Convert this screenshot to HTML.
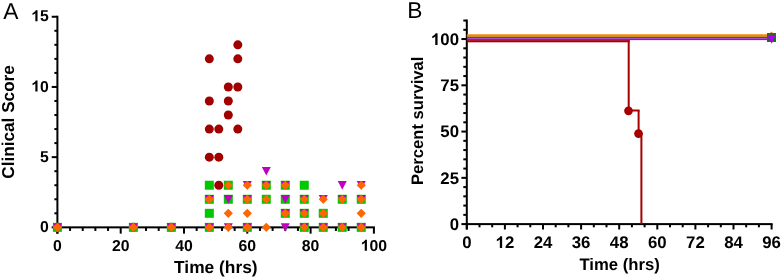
<!DOCTYPE html>
<html><head><meta charset="utf-8"><style>
html,body{margin:0;padding:0;background:#fff;}
body{width:782px;height:279px;overflow:hidden;}
svg{display:block;font-family:"Liberation Sans", sans-serif;will-change:transform;text-rendering:geometricPrecision;}
</style></head><body>
<svg width="782" height="279" viewBox="0 0 782 279" fill="#000">
<rect x="56.40" y="15.75" width="2.00" height="217.90" fill="#000"/>
<rect x="56.40" y="226.35" width="318.50" height="2.00" fill="#000"/>
<rect x="51.70" y="226.35" width="5.70" height="2.00" fill="#000"/>
<rect x="54.40" y="212.31" width="3.00" height="2.00" fill="#000"/>
<rect x="54.40" y="198.27" width="3.00" height="2.00" fill="#000"/>
<rect x="54.40" y="184.23" width="3.00" height="2.00" fill="#000"/>
<rect x="54.40" y="170.19" width="3.00" height="2.00" fill="#000"/>
<rect x="51.70" y="156.15" width="5.70" height="2.00" fill="#000"/>
<rect x="54.40" y="142.11" width="3.00" height="2.00" fill="#000"/>
<rect x="54.40" y="128.07" width="3.00" height="2.00" fill="#000"/>
<rect x="54.40" y="114.03" width="3.00" height="2.00" fill="#000"/>
<rect x="54.40" y="99.99" width="3.00" height="2.00" fill="#000"/>
<rect x="51.70" y="85.95" width="5.70" height="2.00" fill="#000"/>
<rect x="54.40" y="71.91" width="3.00" height="2.00" fill="#000"/>
<rect x="54.40" y="57.87" width="3.00" height="2.00" fill="#000"/>
<rect x="54.40" y="43.83" width="3.00" height="2.00" fill="#000"/>
<rect x="54.40" y="29.79" width="3.00" height="2.00" fill="#000"/>
<rect x="51.70" y="15.75" width="5.70" height="2.00" fill="#000"/>
<rect x="56.40" y="227.35" width="2.00" height="6.30" fill="#000"/>
<rect x="69.06" y="227.35" width="2.00" height="3.60" fill="#000"/>
<rect x="81.72" y="227.35" width="2.00" height="3.60" fill="#000"/>
<rect x="94.38" y="227.35" width="2.00" height="3.60" fill="#000"/>
<rect x="107.04" y="227.35" width="2.00" height="3.60" fill="#000"/>
<rect x="119.70" y="227.35" width="2.00" height="6.30" fill="#000"/>
<rect x="132.36" y="227.35" width="2.00" height="3.60" fill="#000"/>
<rect x="145.02" y="227.35" width="2.00" height="3.60" fill="#000"/>
<rect x="157.68" y="227.35" width="2.00" height="3.60" fill="#000"/>
<rect x="170.34" y="227.35" width="2.00" height="3.60" fill="#000"/>
<rect x="183.00" y="227.35" width="2.00" height="6.30" fill="#000"/>
<rect x="195.66" y="227.35" width="2.00" height="3.60" fill="#000"/>
<rect x="208.32" y="227.35" width="2.00" height="3.60" fill="#000"/>
<rect x="220.98" y="227.35" width="2.00" height="3.60" fill="#000"/>
<rect x="233.64" y="227.35" width="2.00" height="3.60" fill="#000"/>
<rect x="246.30" y="227.35" width="2.00" height="6.30" fill="#000"/>
<rect x="258.96" y="227.35" width="2.00" height="3.60" fill="#000"/>
<rect x="271.62" y="227.35" width="2.00" height="3.60" fill="#000"/>
<rect x="284.28" y="227.35" width="2.00" height="3.60" fill="#000"/>
<rect x="296.94" y="227.35" width="2.00" height="3.60" fill="#000"/>
<rect x="309.60" y="227.35" width="2.00" height="6.30" fill="#000"/>
<rect x="322.26" y="227.35" width="2.00" height="3.60" fill="#000"/>
<rect x="334.92" y="227.35" width="2.00" height="3.60" fill="#000"/>
<rect x="347.58" y="227.35" width="2.00" height="3.60" fill="#000"/>
<rect x="360.24" y="227.35" width="2.00" height="3.60" fill="#000"/>
<rect x="372.90" y="227.35" width="2.00" height="6.30" fill="#000"/>
<text x="48.90" y="231.90" font-size="15.8" font-weight="bold" text-anchor="end" >0</text>
<text x="48.90" y="161.70" font-size="15.8" font-weight="bold" text-anchor="end" >5</text>
<text x="48.90" y="91.50" font-size="15.8" font-weight="bold" text-anchor="end" > 0</text><path transform="matrix(0.00771 0 0 -0.00771 31.33 91.50)" d="M803 0H522V1033Q368 893 159 825V1074Q269 1109 398 1208Q527 1305 575 1430H803Z"/>
<text x="48.90" y="21.30" font-size="15.8" font-weight="bold" text-anchor="end" > 5</text><path transform="matrix(0.00771 0 0 -0.00771 31.33 21.30)" d="M803 0H522V1033Q368 893 159 825V1074Q269 1109 398 1208Q527 1305 575 1430H803Z"/>
<text x="57.40" y="250.80" font-size="15.8" font-weight="bold" text-anchor="middle" >0</text>
<text x="120.70" y="250.80" font-size="15.8" font-weight="bold" text-anchor="middle" >20</text>
<text x="184.00" y="250.80" font-size="15.8" font-weight="bold" text-anchor="middle" >40</text>
<text x="247.30" y="250.80" font-size="15.8" font-weight="bold" text-anchor="middle" >60</text>
<text x="310.60" y="250.80" font-size="15.8" font-weight="bold" text-anchor="middle" >80</text>
<text x="373.90" y="250.80" font-size="15.8" font-weight="bold" text-anchor="middle" > 00</text><path transform="matrix(0.00771 0 0 -0.00771 360.72 250.80)" d="M803 0H522V1033Q368 893 159 825V1074Q269 1109 398 1208Q527 1305 575 1430H803Z"/>
<text x="215.83" y="273.20" font-size="17.35" font-weight="bold" text-anchor="middle" >Time (hrs)</text>
<text x="0.00" y="0.00" font-size="17.16" font-weight="bold" text-anchor="middle" transform="translate(14.4 121.9) rotate(-90)">Clinical Score</text>
<text x="3.25" y="18.90" font-size="22.8" font-weight="normal" text-anchor="start" >A</text>
<circle cx="209.32" cy="58.87" r="4.50" fill="#A00000"/>
<circle cx="209.32" cy="100.99" r="4.50" fill="#A00000"/>
<circle cx="209.32" cy="129.07" r="4.50" fill="#A00000"/>
<circle cx="209.32" cy="157.15" r="4.50" fill="#A00000"/>
<circle cx="218.81" cy="129.07" r="4.50" fill="#A00000"/>
<circle cx="218.81" cy="157.15" r="4.50" fill="#A00000"/>
<circle cx="218.81" cy="185.23" r="4.50" fill="#A00000"/>
<circle cx="228.31" cy="86.95" r="4.50" fill="#A00000"/>
<circle cx="228.31" cy="100.99" r="4.50" fill="#A00000"/>
<circle cx="228.31" cy="115.03" r="4.50" fill="#A00000"/>
<circle cx="237.81" cy="44.83" r="4.50" fill="#A00000"/>
<circle cx="237.81" cy="58.87" r="4.50" fill="#A00000"/>
<circle cx="237.81" cy="86.95" r="4.50" fill="#A00000"/>
<circle cx="237.81" cy="129.07" r="4.50" fill="#A00000"/>
<circle cx="57.40" cy="227.35" r="4.50" fill="#A00000"/>
<circle cx="133.36" cy="227.35" r="4.50" fill="#A00000"/>
<circle cx="171.34" cy="227.35" r="4.50" fill="#A00000"/>
<rect x="52.90" y="222.85" width="9.00" height="9.00" fill="#00C800"/>
<rect x="128.86" y="222.85" width="9.00" height="9.00" fill="#00C800"/>
<rect x="166.84" y="222.85" width="9.00" height="9.00" fill="#00C800"/>
<rect x="204.82" y="180.73" width="9.00" height="9.00" fill="#00C800"/>
<rect x="204.82" y="194.77" width="9.00" height="9.00" fill="#00C800"/>
<rect x="204.82" y="208.81" width="9.00" height="9.00" fill="#00C800"/>
<rect x="204.82" y="222.85" width="9.00" height="9.00" fill="#00C800"/>
<rect x="223.81" y="180.73" width="9.00" height="9.00" fill="#00C800"/>
<rect x="223.81" y="194.77" width="9.00" height="9.00" fill="#00C800"/>
<rect x="242.80" y="194.77" width="9.00" height="9.00" fill="#00C800"/>
<rect x="242.80" y="222.85" width="9.00" height="9.00" fill="#00C800"/>
<rect x="261.79" y="180.73" width="9.00" height="9.00" fill="#00C800"/>
<rect x="261.79" y="194.77" width="9.00" height="9.00" fill="#00C800"/>
<rect x="280.78" y="180.73" width="9.00" height="9.00" fill="#00C800"/>
<rect x="280.78" y="194.77" width="9.00" height="9.00" fill="#00C800"/>
<rect x="280.78" y="208.81" width="9.00" height="9.00" fill="#00C800"/>
<rect x="299.77" y="180.73" width="9.00" height="9.00" fill="#00C800"/>
<rect x="299.77" y="194.77" width="9.00" height="9.00" fill="#00C800"/>
<rect x="299.77" y="208.81" width="9.00" height="9.00" fill="#00C800"/>
<rect x="299.77" y="222.85" width="9.00" height="9.00" fill="#00C800"/>
<rect x="318.76" y="208.81" width="9.00" height="9.00" fill="#00C800"/>
<rect x="318.76" y="222.85" width="9.00" height="9.00" fill="#00C800"/>
<rect x="337.75" y="194.77" width="9.00" height="9.00" fill="#00C800"/>
<rect x="337.75" y="222.85" width="9.00" height="9.00" fill="#00C800"/>
<rect x="356.74" y="194.77" width="9.00" height="9.00" fill="#00C800"/>
<rect x="356.74" y="222.85" width="9.00" height="9.00" fill="#00C800"/>
<path d="M52.90 223.15H61.90L57.40 231.75Z" fill="#C000C0"/>
<path d="M128.86 223.15H137.86L133.36 231.75Z" fill="#C000C0"/>
<path d="M166.84 223.15H175.84L171.34 231.75Z" fill="#C000C0"/>
<path d="M204.82 195.07H213.82L209.32 203.67Z" fill="#C000C0"/>
<path d="M204.82 223.15H213.82L209.32 231.75Z" fill="#C000C0"/>
<path d="M223.81 195.07H232.81L228.31 203.67Z" fill="#C000C0"/>
<path d="M223.81 223.15H232.81L228.31 231.75Z" fill="#C000C0"/>
<path d="M242.80 181.03H251.80L247.30 189.63Z" fill="#C000C0"/>
<path d="M242.80 195.07H251.80L247.30 203.67Z" fill="#C000C0"/>
<path d="M242.80 223.15H251.80L247.30 231.75Z" fill="#C000C0"/>
<path d="M261.79 166.99H270.79L266.29 175.59Z" fill="#C000C0"/>
<path d="M261.79 181.03H270.79L266.29 189.63Z" fill="#C000C0"/>
<path d="M280.78 181.03H289.78L285.28 189.63Z" fill="#C000C0"/>
<path d="M280.78 195.07H289.78L285.28 203.67Z" fill="#C000C0"/>
<path d="M280.78 209.11H289.78L285.28 217.71Z" fill="#C000C0"/>
<path d="M280.78 223.15H289.78L285.28 231.75Z" fill="#C000C0"/>
<path d="M299.77 195.07H308.77L304.27 203.67Z" fill="#C000C0"/>
<path d="M299.77 209.11H308.77L304.27 217.71Z" fill="#C000C0"/>
<path d="M299.77 223.15H308.77L304.27 231.75Z" fill="#C000C0"/>
<path d="M318.76 195.07H327.76L323.26 203.67Z" fill="#C000C0"/>
<path d="M318.76 223.15H327.76L323.26 231.75Z" fill="#C000C0"/>
<path d="M337.75 181.03H346.75L342.25 189.63Z" fill="#C000C0"/>
<path d="M337.75 195.07H346.75L342.25 203.67Z" fill="#C000C0"/>
<path d="M337.75 223.15H346.75L342.25 231.75Z" fill="#C000C0"/>
<path d="M356.74 181.03H365.74L361.24 189.63Z" fill="#C000C0"/>
<path d="M356.74 195.07H365.74L361.24 203.67Z" fill="#C000C0"/>
<path d="M356.74 223.15H365.74L361.24 231.75Z" fill="#C000C0"/>
<path d="M57.40 222.75L62.00 227.35L57.40 231.95L52.80 227.35Z" fill="#FF6600"/>
<path d="M133.36 222.75L137.96 227.35L133.36 231.95L128.76 227.35Z" fill="#FF6600"/>
<path d="M171.34 222.75L175.94 227.35L171.34 231.95L166.74 227.35Z" fill="#FF6600"/>
<path d="M209.32 194.67L213.92 199.27L209.32 203.87L204.72 199.27Z" fill="#FF6600"/>
<path d="M209.32 222.75L213.92 227.35L209.32 231.95L204.72 227.35Z" fill="#FF6600"/>
<path d="M228.31 180.63L232.91 185.23L228.31 189.83L223.71 185.23Z" fill="#FF6600"/>
<path d="M228.31 208.71L232.91 213.31L228.31 217.91L223.71 213.31Z" fill="#FF6600"/>
<path d="M228.31 222.75L232.91 227.35L228.31 231.95L223.71 227.35Z" fill="#FF6600"/>
<path d="M247.30 180.63L251.90 185.23L247.30 189.83L242.70 185.23Z" fill="#FF6600"/>
<path d="M247.30 194.67L251.90 199.27L247.30 203.87L242.70 199.27Z" fill="#FF6600"/>
<path d="M247.30 208.71L251.90 213.31L247.30 217.91L242.70 213.31Z" fill="#FF6600"/>
<path d="M247.30 222.75L251.90 227.35L247.30 231.95L242.70 227.35Z" fill="#FF6600"/>
<path d="M266.29 180.63L270.89 185.23L266.29 189.83L261.69 185.23Z" fill="#FF6600"/>
<path d="M266.29 194.67L270.89 199.27L266.29 203.87L261.69 199.27Z" fill="#FF6600"/>
<path d="M266.29 222.75L270.89 227.35L266.29 231.95L261.69 227.35Z" fill="#FF6600"/>
<path d="M285.28 180.63L289.88 185.23L285.28 189.83L280.68 185.23Z" fill="#FF6600"/>
<path d="M285.28 208.71L289.88 213.31L285.28 217.91L280.68 213.31Z" fill="#FF6600"/>
<path d="M304.27 194.67L308.87 199.27L304.27 203.87L299.67 199.27Z" fill="#FF6600"/>
<path d="M304.27 208.71L308.87 213.31L304.27 217.91L299.67 213.31Z" fill="#FF6600"/>
<path d="M304.27 222.75L308.87 227.35L304.27 231.95L299.67 227.35Z" fill="#FF6600"/>
<path d="M323.26 194.67L327.86 199.27L323.26 203.87L318.66 199.27Z" fill="#FF6600"/>
<path d="M323.26 208.71L327.86 213.31L323.26 217.91L318.66 213.31Z" fill="#FF6600"/>
<path d="M323.26 222.75L327.86 227.35L323.26 231.95L318.66 227.35Z" fill="#FF6600"/>
<path d="M342.25 194.67L346.85 199.27L342.25 203.87L337.65 199.27Z" fill="#FF6600"/>
<path d="M342.25 222.75L346.85 227.35L342.25 231.95L337.65 227.35Z" fill="#FF6600"/>
<path d="M361.24 180.63L365.84 185.23L361.24 189.83L356.64 185.23Z" fill="#FF6600"/>
<path d="M361.24 194.67L365.84 199.27L361.24 203.87L356.64 199.27Z" fill="#FF6600"/>
<path d="M361.24 208.71L365.84 213.31L361.24 217.91L356.64 213.31Z" fill="#FF6600"/>
<path d="M361.24 222.75L365.84 227.35L361.24 231.95L356.64 227.35Z" fill="#FF6600"/>
<rect x="465.80" y="19.54" width="2.00" height="209.96" fill="#000"/>
<rect x="465.80" y="223.10" width="306.80" height="2.00" fill="#000"/>
<rect x="461.40" y="223.10" width="5.40" height="2.00" fill="#000"/>
<rect x="463.30" y="213.85" width="3.50" height="2.00" fill="#000"/>
<rect x="463.30" y="204.59" width="3.50" height="2.00" fill="#000"/>
<rect x="463.30" y="195.34" width="3.50" height="2.00" fill="#000"/>
<rect x="463.30" y="186.09" width="3.50" height="2.00" fill="#000"/>
<rect x="461.40" y="176.84" width="5.40" height="2.00" fill="#000"/>
<rect x="463.30" y="167.58" width="3.50" height="2.00" fill="#000"/>
<rect x="463.30" y="158.33" width="3.50" height="2.00" fill="#000"/>
<rect x="463.30" y="149.08" width="3.50" height="2.00" fill="#000"/>
<rect x="463.30" y="139.83" width="3.50" height="2.00" fill="#000"/>
<rect x="461.40" y="130.57" width="5.40" height="2.00" fill="#000"/>
<rect x="463.30" y="121.32" width="3.50" height="2.00" fill="#000"/>
<rect x="463.30" y="112.07" width="3.50" height="2.00" fill="#000"/>
<rect x="463.30" y="102.82" width="3.50" height="2.00" fill="#000"/>
<rect x="463.30" y="93.56" width="3.50" height="2.00" fill="#000"/>
<rect x="461.40" y="84.31" width="5.40" height="2.00" fill="#000"/>
<rect x="463.30" y="75.06" width="3.50" height="2.00" fill="#000"/>
<rect x="463.30" y="65.81" width="3.50" height="2.00" fill="#000"/>
<rect x="463.30" y="56.55" width="3.50" height="2.00" fill="#000"/>
<rect x="463.30" y="47.30" width="3.50" height="2.00" fill="#000"/>
<rect x="461.40" y="38.05" width="5.40" height="2.00" fill="#000"/>
<rect x="463.30" y="28.80" width="3.50" height="2.00" fill="#000"/>
<rect x="463.30" y="19.54" width="3.50" height="2.00" fill="#000"/>
<rect x="465.80" y="224.10" width="2.00" height="5.40" fill="#000"/>
<rect x="478.50" y="224.10" width="2.00" height="3.20" fill="#000"/>
<rect x="491.20" y="224.10" width="2.00" height="3.20" fill="#000"/>
<rect x="503.90" y="224.10" width="2.00" height="5.40" fill="#000"/>
<rect x="516.60" y="224.10" width="2.00" height="3.20" fill="#000"/>
<rect x="529.30" y="224.10" width="2.00" height="3.20" fill="#000"/>
<rect x="542.00" y="224.10" width="2.00" height="5.40" fill="#000"/>
<rect x="554.70" y="224.10" width="2.00" height="3.20" fill="#000"/>
<rect x="567.40" y="224.10" width="2.00" height="3.20" fill="#000"/>
<rect x="580.10" y="224.10" width="2.00" height="5.40" fill="#000"/>
<rect x="592.80" y="224.10" width="2.00" height="3.20" fill="#000"/>
<rect x="605.50" y="224.10" width="2.00" height="3.20" fill="#000"/>
<rect x="618.20" y="224.10" width="2.00" height="5.40" fill="#000"/>
<rect x="630.90" y="224.10" width="2.00" height="3.20" fill="#000"/>
<rect x="643.60" y="224.10" width="2.00" height="3.20" fill="#000"/>
<rect x="656.30" y="224.10" width="2.00" height="5.40" fill="#000"/>
<rect x="669.00" y="224.10" width="2.00" height="3.20" fill="#000"/>
<rect x="681.70" y="224.10" width="2.00" height="3.20" fill="#000"/>
<rect x="694.40" y="224.10" width="2.00" height="5.40" fill="#000"/>
<rect x="707.10" y="224.10" width="2.00" height="3.20" fill="#000"/>
<rect x="719.80" y="224.10" width="2.00" height="3.20" fill="#000"/>
<rect x="732.50" y="224.10" width="2.00" height="5.40" fill="#000"/>
<rect x="745.20" y="224.10" width="2.00" height="3.20" fill="#000"/>
<rect x="757.90" y="224.10" width="2.00" height="3.20" fill="#000"/>
<rect x="770.60" y="224.10" width="2.00" height="5.40" fill="#000"/>
<text x="459.00" y="230.00" font-size="16.8" font-weight="bold" text-anchor="end" >0</text>
<text x="459.00" y="183.74" font-size="16.8" font-weight="bold" text-anchor="end" >25</text>
<text x="459.00" y="137.47" font-size="16.8" font-weight="bold" text-anchor="end" >50</text>
<text x="459.00" y="91.21" font-size="16.8" font-weight="bold" text-anchor="end" >75</text>
<text x="459.00" y="44.95" font-size="16.8" font-weight="bold" text-anchor="end" > 00</text><path transform="matrix(0.00820 0 0 -0.00820 430.97 44.95)" d="M803 0H522V1033Q368 893 159 825V1074Q269 1109 398 1208Q527 1305 575 1430H803Z"/>
<text x="466.80" y="248.00" font-size="16.8" font-weight="bold" text-anchor="middle" >0</text>
<text x="504.90" y="248.00" font-size="16.8" font-weight="bold" text-anchor="middle" > 2</text><path transform="matrix(0.00820 0 0 -0.00820 495.56 248.00)" d="M803 0H522V1033Q368 893 159 825V1074Q269 1109 398 1208Q527 1305 575 1430H803Z"/>
<text x="543.00" y="248.00" font-size="16.8" font-weight="bold" text-anchor="middle" >24</text>
<text x="581.10" y="248.00" font-size="16.8" font-weight="bold" text-anchor="middle" >36</text>
<text x="619.20" y="248.00" font-size="16.8" font-weight="bold" text-anchor="middle" >48</text>
<text x="657.30" y="248.00" font-size="16.8" font-weight="bold" text-anchor="middle" >60</text>
<text x="695.40" y="248.00" font-size="16.8" font-weight="bold" text-anchor="middle" >72</text>
<text x="733.50" y="248.00" font-size="16.8" font-weight="bold" text-anchor="middle" >84</text>
<text x="771.60" y="248.00" font-size="16.8" font-weight="bold" text-anchor="middle" >96</text>
<text x="619.57" y="269.80" font-size="16.7" font-weight="bold" text-anchor="middle" >Time (hrs)</text>
<text x="0.00" y="0.00" font-size="16.64" font-weight="bold" text-anchor="middle" transform="translate(422.6 120.75) rotate(-90)">Percent survival</text>
<text x="407.20" y="17.65" font-size="22.8" font-weight="normal" text-anchor="start" >B</text>
<rect x="466.80" y="40.1" width="162.90" height="2.2" fill="#A80000"/>
<rect x="627.70" y="40.10" width="2.00" height="71.40" fill="#A80000"/>
<rect x="628.70" y="109.50" width="10.90" height="2.00" fill="#A80000"/>
<rect x="637.60" y="110.50" width="2.00" height="24.00" fill="#A80000"/>
<rect x="638.60" y="132.50" width="3.80" height="2.00" fill="#A80000"/>
<rect x="640.40" y="133.50" width="2.00" height="90.60" fill="#A80000"/>
<circle cx="628.50" cy="110.80" r="4.35" fill="#A80000"/>
<circle cx="638.50" cy="133.60" r="4.35" fill="#A80000"/>
<rect x="466.80" y="34.3" width="304.80" height="2.5" fill="#FF8000"/>
<path d="M771.50 31.50L776.10 36.10L771.50 40.70L766.90 36.10Z" fill="#FF8000"/>
<rect x="466.80" y="36.8" width="304.80" height="1.6" fill="#008700"/>
<rect x="767.00" y="33.00" width="9.00" height="9.00" fill="#008700"/>
<rect x="466.80" y="38.4" width="304.80" height="1.7" fill="#B000EB"/>
<path d="M767.4 34.8H775.8L771.6 43.8Z" fill="#B000EB"/>
</svg>
</body></html>
